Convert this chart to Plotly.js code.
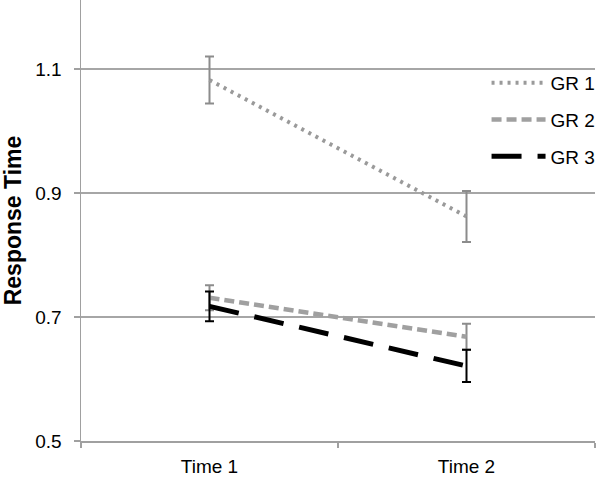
<!DOCTYPE html>
<html>
<head>
<meta charset="utf-8">
<script src="https://cdn.plot.ly/plotly-3.0.1.min.js"></script>
<style>html,body{margin:0;padding:0;background:#fff;}#chart{width:600px;height:479px;}</style>
</head>
<body>
<div id="chart"></div>
<script>
const categories = ["Time 1", "Time 2"];
const seriesNames = ["GR 1", "GR 2", "GR 3"];
const gr1 = [1.082, 0.862];
const gr1Err = [0.038, 0.041];
const gr2 = [0.731, 0.668];
const gr2Err = [0.020, 0.021];
const gr3 = [0.717, 0.621];
const gr3Err = [0.024, 0.026];
const yTicks = [0.5, 0.7, 0.9, 1.1];
const yTickText = ["0.5", "0.7", "0.9", "1.1"];

function mk(name, y, err, color, errColor, dash, width) {
  return {
    type: "scatter", mode: "lines", name: name, x: categories, y: y,
    legendgroup: name,
    line: {color: color, width: width, dash: dash},
    error_y: {type: "data", array: err, visible: true, color: errColor, thickness: 2, width: 4.5}
  };
}
const data = [
  mk(seriesNames[0], gr1, gr1Err, "#9a9a9a", "#8c8c8c", "3px,5px", 4),
  mk(seriesNames[1], gr2, gr2Err, "#a0a0a0", "#8c8c8c", "10px,5px", 4.5),
  mk(seriesNames[2], gr3, gr3Err, "#000000", "#000000", "30px,16px", 5)
];
const layout = {
  width: 600, height: 479,
  margin: {l: 81, r: 5, t: 0, b: 38, autoexpand: false},
  paper_bgcolor: "#fff", plot_bgcolor: "#fff",
  font: {family: "Liberation Sans, Arial, sans-serif", size: 19, color: "#000"},
  showlegend: true,
  legend: {x: 0.789, xanchor: "left", y: 0.855, yanchor: "top", font: {size: 19},
           tracegroupgap: 9, itemwidth: 54, bgcolor: "rgba(0,0,0,0)"},
  xaxis: {type: "category", range: [-0.5, 1.5], showline: true, linecolor: "#a0a0a0", linewidth: 1.5,
          ticks: "outside", tickson: "boundaries", ticklen: 5, tickcolor: "#a0a0a0", tickwidth: 1.5,
          showgrid: false, zeroline: false, fixedrange: true, ticklabelstandoff: 8},
  yaxis: {range: [0.5, 1.211], tickvals: yTicks, ticktext: yTickText, showline: true, linecolor: "#a0a0a0",
          linewidth: 1.5, ticks: "outside", ticklen: 6, tickcolor: "#a0a0a0", tickwidth: 1.5,
          showgrid: true, gridcolor: "#a6a6a6", gridwidth: 1.5, zeroline: false, ticklabelstandoff: 8,
          title: {text: "Response Time", font: {size: 23, weight: "bold", family: "Liberation Sans, Arial, sans-serif"}, standoff: 16}}
};
Plotly.newPlot("chart", data, layout, {staticPlot: true, displayModeBar: false});
</script>
</body>
</html>
